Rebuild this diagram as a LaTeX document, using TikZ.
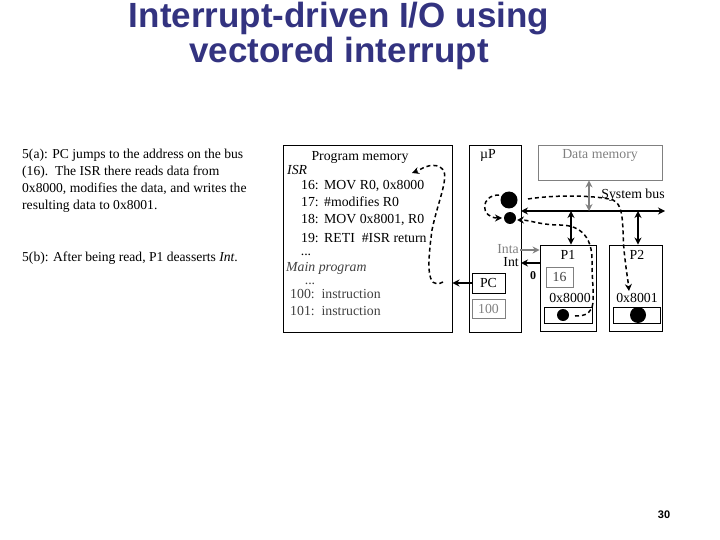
\documentclass[tikz,border=0pt]{standalone}
\usepackage{fontspec}
\setmainfont{Liberation Serif}
\newfontfamily\arialf{Liberation Sans}
\usetikzlibrary{arrows.meta}
\definecolor{ttl}{rgb}{0.2,0.2,0.5}
\definecolor{gr}{rgb}{0.5,0.5,0.5}
\definecolor{dk}{rgb}{0.25,0.25,0.25}
\tikzset{box/.style={draw,line width=0.9pt},
 gbox/.style={draw=gr,line width=0.9pt},
 txt/.style={font=\fontsize{13.8}{15}\selectfont,inner sep=0pt},
 dsh/.style={line width=1.5pt,dash pattern=on 4pt off 3pt,-{Stealth[length=7pt,width=7pt]}},
 arr/.style={line width=1.8pt,{Stealth[length=7pt,width=7pt]}-{Stealth[length=7pt,width=7pt]}},
 sarr/.style={line width=1.8pt,-{Stealth[length=7pt,width=7pt]}}}
\begin{document}
\begin{tikzpicture}[x=1pt,y=-1pt]
\useasboundingbox (0,0) rectangle (720,540);
\node[font=\arialf\bfseries\fontsize{35}{35}\selectfont,text=ttl,align=center,inner sep=0pt] (title) at (339,36) {Interrupt-driven I/O using\\vectored interrupt};
\node[txt,anchor=north west,align=left,font=\fontsize{13.6}{17}\selectfont] (ta) at (22,149) {5(a): PC jumps to the address on the bus\\(16).\ \ The ISR there reads data from\\0x8000, modifies the data, and writes the\\resulting data to 0x8001.};
\node[txt,anchor=north west,font=\fontsize{13.6}{17}\selectfont] (tb) at (22,252) {5(b): After being read, P1 deasserts \textit{Int}.};
% boxes
\node[box,minimum width=169pt,minimum height=187pt,inner sep=0pt] (pm) at (367.5,238.5) {};
\node[box,minimum width=52pt,minimum height=187pt,inner sep=0pt] (up) at (495,238.5) {};
\node[gbox,minimum width=124pt,minimum height=35pt,inner sep=0pt] (dm) at (600,162.5) {};
\node[box,minimum width=56pt,minimum height=86pt,inner sep=0pt] (p1) at (568,288) {};
\node[box,minimum width=53pt,minimum height=86pt,inner sep=0pt] (p2) at (635.5,288) {};
\node[box,minimum width=33pt,minimum height=20pt,inner sep=0pt,txt] (pc) at (488.5,283) {PC};
\node[gbox,minimum width=33pt,minimum height=19pt,inner sep=0pt,txt,text=gr] (hund) at (488.5,308.5) {100};
\node[gbox,minimum width=27pt,minimum height=20pt,inner sep=0pt,txt,text=dk] (sixt) at (559.5,277) {16};
\node[box,minimum width=48pt,minimum height=16pt,inner sep=0pt] (i1) at (568,315) {};
\node[box,minimum width=47pt,minimum height=16pt,inner sep=0pt] (i2) at (636.5,315) {};
\fill (563,315) circle (6);
\fill (638,315) circle (8);
\fill (509,200) circle (8.5);
\fill (510,218) circle (6);
% labels
\node[txt] (pml) at (360,157) {Program memory};
\node[txt,anchor=base west] (isr) at (287,175) {\textit{ISR}};
\foreach \n/\t/\y in {16/{MOV R0, 0x8000}/190,17/{\#modifies R0}/207,18/{MOV 0x8001, R0}/224,19/{RETI\ \ \#ISR return}/242}{
 \node[txt,anchor=base east] (n\n) at (319,\y) {\n:};
 \node[txt,anchor=base west] (c\n) at (324,\y) {\t};}
\node[txt,anchor=base] (d1) at (306,255) {...};
\node[txt,anchor=base west,text=dk] (mp) at (286,271) {\textit{Main program}};
\node[txt,anchor=base,text=dk] (d2) at (310,284) {...};
\node[txt,anchor=base west,text=dk] (l100) at (290,298) {100:\ \ instruction};
\node[txt,anchor=base west,text=dk] (l101) at (290,315) {101:\ \ instruction};
\node[txt] (upl) at (488,155) {µP};
\node[txt,text=gr] (dml) at (600,155) {Data memory};
\node[txt] (sbl) at (633,195) {System bus};
\node[txt] (p1l) at (568,255) {P1};
\node[txt] (p2l) at (637,255) {P2};
\node[txt] (a1) at (570,298) {0x8000};
\node[txt] (a2) at (637,298) {0x8001};
\node[txt,anchor=east,text=gr] (inta) at (519,249) {Inta};
\node[txt,anchor=east] (intl) at (519,262) {Int};
\node[txt,font=\bfseries\fontsize{12}{13}\selectfont] (zero) at (533,276) {0};
\node[font=\arialf\bfseries\fontsize{11}{12}\selectfont] (pg) at (664,515) {30};
% bus
\draw[arr] (521,211) -- (665,211);
\draw[arr,draw=gr,line width=1.3pt] (dm.south -| 589,0) -- (589,211);
\draw[arr] (571,211) -- (p1.north -| 571,0);
\draw[arr] (638,211) -- (p2.north -| 638,0);
\draw[sarr,draw=gr] (520,250) -- (p1.west |- 0,250);
\draw[sarr] (p1.west |- 0,263) -- (521,263);
\draw[sarr] (pc.west) -- (pm.east |- pc.west);
% dashed
\draw[dsh] (443,282) .. controls (425,292) and (428,260) .. (432,230) .. controls (438,200) and (452,172) .. (440,167) .. controls (430,162) and (420,170) .. (412,173);
\draw[dsh] (499,195) .. controls (480,195) and (480,218) .. (502,218);
\draw[dsh] (575,316) .. controls (600,316) and (592,300) .. (592,260) .. controls (592,228) and (570,225) .. (560,225) .. controls (540,225) and (530,220) .. (517,220);
\draw[dsh] (528,199) .. controls (560,194) and (600,196) .. (613,200) .. controls (625,205) and (622,230) .. (624,250) .. controls (626,270) and (628,280) .. (629,291);
\end{tikzpicture}
\end{document}
